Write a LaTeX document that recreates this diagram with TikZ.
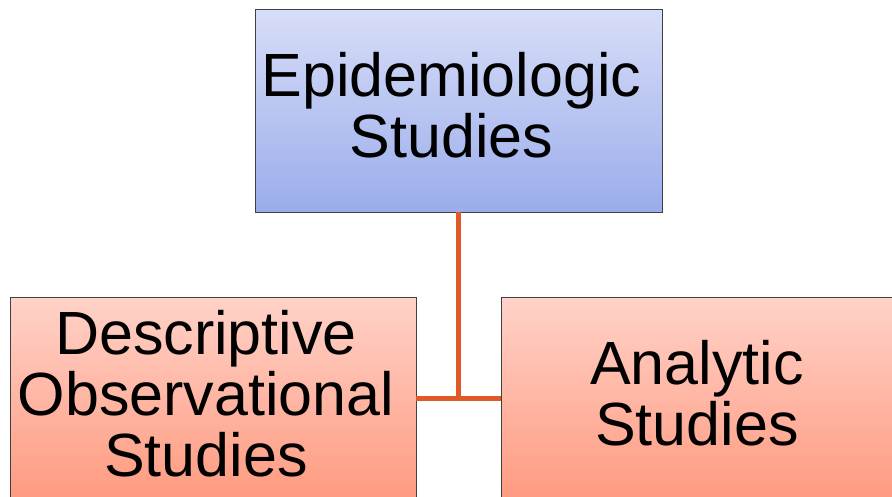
\documentclass[tikz,border=0pt]{standalone}
\usepackage{fontspec}
\setmainfont{Liberation Sans}
\definecolor{linkc}{HTML}{E05A28}
\definecolor{bluetop}{HTML}{D8DEF8}
\definecolor{bluebot}{HTML}{9AACEB}
\definecolor{redtop}{HTML}{FFD2C8}
\definecolor{redbot}{HTML}{FF9A80}
\definecolor{edgec}{HTML}{404040}
\begin{document}
\begin{tikzpicture}[x=1pt,y=-1pt,
  boxbase/.style={draw=edgec, line width=0.8pt, rectangle, inner sep=0pt},
  bluebox/.style={boxbase, top color=bluetop, bottom color=bluebot},
  redbox/.style={boxbase, top color=redtop, bottom color=redbot},
  label text/.style={align=center, inner sep=0pt, font={\fontsize{61}{61}\selectfont}},
  link/.style={draw=linkc, line width=5pt}]
\useasboundingbox (0,0) rectangle (892,496);
\begin{scope}
\clip (0,0) rectangle (892,496);
\node[bluebox, minimum width=407pt, minimum height=203pt] (top) at (458.5,110.5) {};
\node[redbox, minimum width=406pt, minimum height=203pt] (left) at (213,398.5) {};
\node[redbox, minimum width=400pt, minimum height=203pt] (right) at (701,398.5) {};
\node[label text] (toptext) at ([xshift=-7pt,yshift=5pt]top.center) {Epidemiologic\\Studies};
\node[label text] (lefttext) at ([xshift=-7pt,yshift=5pt]left.center) {Descriptive\\Observational\\Studies};
\node[label text] (righttext) at ([xshift=-4pt,yshift=5pt]right.center) {Analytic\\Studies};
\coordinate (junction) at (top.south |- left.east);
\draw[link] (top.south) -- (junction);
\draw[link] (left.east) -- (right.west);
\end{scope}
\end{tikzpicture}
\end{document}
